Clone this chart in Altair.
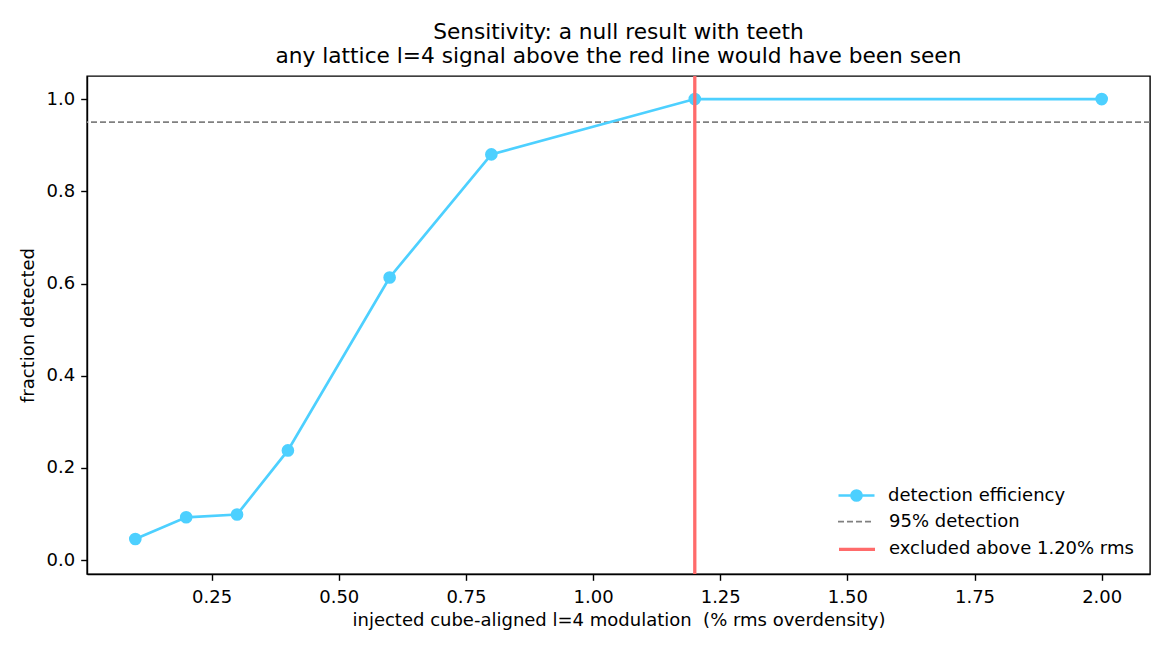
import altair as alt
import pandas as pd

# injected amplitude (% rms) and the fraction of trials that flagged it
amplitude = [0.1, 0.2, 0.3, 0.4, 0.6, 0.8, 1.2, 2.0]
fraction = [0.046, 0.093, 0.099, 0.238, 0.613, 0.880, 1.0, 1.0]
threshold = [0.95]
excluded = [1.2]

labels = ["detection efficiency", "95% detection", "excluded above 1.20% rms"]
colors = ["#4dd0ff", "#808080", "#ff6b6b"]

x_ticks = [0.25, 0.5, 0.75, 1.0, 1.25, 1.5, 1.75, 2.0]
y_ticks = [0.0, 0.2, 0.4, 0.6, 0.8, 1.0]

FONT = "DejaVu Sans"
LINE = "M-1,0H2.6"
LINE_DOT = LINE + "M1.3,0A0.5,0.5,0,1,1,0.3,0A0.5,0.5,0,1,1,1.3,0"

curve = pd.DataFrame({"x": amplitude, "y": fraction, "series": labels[0]})
hline = pd.DataFrame({"y": threshold, "series": [labels[1]]})
vline = pd.DataFrame({"x": excluded, "series": [labels[2]]})


def entry(row, shape, offset=28, **kw):
    # one-entry legend, stacked by hand in the lower right of the axes
    return alt.Legend(title=None, orient="none", legendX=750, legendY=408 + 26.7 * row,
                      symbolType=shape, symbolSize=400, labelOffset=offset, **kw)


xs = alt.Scale(domain=[0.005, 2.095], nice=False, zero=False)
ys = alt.Scale(domain=[-0.03, 1.05], nice=False, zero=False)
x_axis = alt.Axis(values=x_ticks, format=".2f",
                  title="injected cube-aligned l=4 modulation \u00a0(% rms overdensity)", titlePadding=5)
y_axis = alt.Axis(values=y_ticks, format=".1f", title="fraction detected", titlePadding=9)

X = alt.X("x:Q", scale=xs, axis=x_axis)
Y = alt.Y("y:Q", scale=ys, axis=y_axis)

blue = alt.Color("series:N", scale=alt.Scale(domain=labels[:1], range=colors[:1]),
                 legend=entry(0, LINE_DOT, symbolStrokeWidth=2.7, symbolFillColor=colors[0]))

dash = alt.Chart(hline).mark_rule(strokeWidth=1.8, color=colors[1]).encode(
    y=Y,
    strokeDash=alt.StrokeDash(
        "series:N", scale=alt.Scale(domain=labels[1:2], range=[[6, 3]]),
        legend=entry(1, LINE, offset=30, symbolStrokeWidth=1.8, symbolStrokeColor=colors[1])),
)
line = alt.Chart(curve).mark_line(strokeWidth=2.7).encode(x=X, y=Y, color=blue)
dots = alt.Chart(curve).mark_circle(size=160, opacity=1).encode(x=X, y=Y, color=blue)
red = alt.Chart(vline).mark_rule(strokeWidth=3.3, color=colors[2]).encode(
    x=X,
    opacity=alt.Opacity("series:N", scale=alt.Scale(domain=labels[2:], range=[1]),
                        legend=entry(2, LINE, symbolStrokeWidth=3.3, symbolStrokeColor=colors[2])),
)

chart = (dash + line + dots + red).properties(
    width=1063, height=498,
    autosize=alt.AutoSizeParams(type="none"),
    padding={"left": 79, "top": 68, "right": 12, "bottom": 60},
    title=alt.TitleParams(
        text=["Sensitivity: a null result with teeth",
              "any lattice l=4 signal above the red line would have been seen"],
        font=FONT, fontSize=21.7, fontWeight="normal", color="black",
        anchor="middle", lineHeight=24, offset=7,
    ),
).configure_axis(
    labelFont=FONT, labelFontSize=18, labelColor="black",
    titleFont=FONT, titleFontSize=18, titleColor="black", titleFontWeight="normal",
    tickSize=6.3, tickColor="black", tickWidth=1.4, labelPadding=6,
    domainColor="black", domainWidth=1.4, grid=False,
).configure_axisX(labelPadding=8).configure_legend(
    labelFont=FONT, labelFontSize=18, labelColor="black", labelLimit=400, padding=0,
).configure_view(stroke="black", strokeWidth=1.4)

chart.save("out.html", embed_options={"renderer": "svg", "actions": False})
